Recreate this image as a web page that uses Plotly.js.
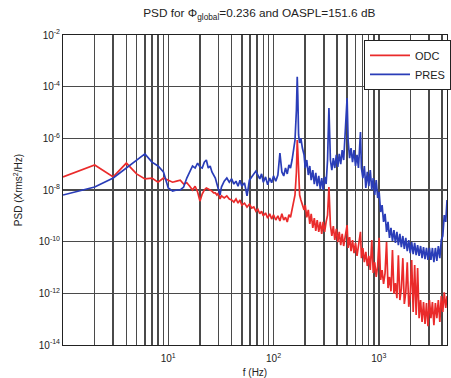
<!DOCTYPE html>
<html>
<head>
<meta charset="utf-8">
<script src="https://cdn.plot.ly/plotly-3.0.1.min.js"></script>
<style>html,body{margin:0;padding:0;background:#fff;}#chart{width:451px;height:378px;}</style>
</head>
<body>
<div id="chart"></div>
<script>
// Frequency grid (Hz), shared by both spectra
const freq = [1,2,3,4,5,6,7,8,9,10,11,12,13,14,15,16,17,18,19,20,21,22,23,24,25,26,27,28,29,30,31,32,
34,36,38,40,42,44,46,48,50,53,56,59,62,65,68,71,74,77,80,84,88,92,96,100,
105,110,115,120,125,130,135,140,145,150,155,160,165,168,170,173,177,182,188,195,
200,207,214,221,228,236,244,252,260,269,278,287,296,306,316,326,336,347,358,370,
382,395,408,421,435,449,464,479,500,511,528,545,563,582,601,621,641,670,684,706,
729,753,778,804,830,858,886,915,945,976,1008,1041,1075,1110,1147,1185,1224,1264,1306,1349,
1393,1439,1486,1535,1586,1638,1692,1748,1805,1864,1926,1989,2054,2122,2192,2264,2338,2415,2495,2577,
2661,2749,2839,2933,3029,3129,3232,3338,3448,3561,3679,3800,3925,4054,4187,4325,4450];

// ODC PSD (Xrms^2/Hz)
const odc = [3.2e-8,9.3e-8,3.2e-8,1.1e-7,4.2e-8,2.7e-8,2.9e-8,2.0e-8,2.9e-8,2.4e-8,2.0e-8,2.2e-8,2.4e-8,1.7e-8,1.9e-8,1.4e-8,1.0e-8,1.4e-8,8.4e-9,3.7e-9,7.0e-9,1.0e-8,1.2e-8,1.1e-8,1.0e-8,9.1e-9,7.7e-9,7.7e-9,6.4e-9,7.7e-9,4.5e-9,5.9e-9,
4.9e-9,5.9e-9,4.5e-9,4.1e-9,3.4e-9,4.5e-9,3.1e-9,4.1e-9,2.6e-9,3.1e-9,2.2e-9,2.8e-9,2.0e-9,2.2e-9,1.5e-9,1.8e-9,1.2e-9,1.5e-9,1.0e-9,1.3e-9,8.2e-10,1.2e-9,7.5e-10,1.1e-9,
6.9e-10,1.0e-9,6.3e-10,1.2e-9,6.9e-10,8.8e-10,5.8e-10,1.1e-9,8.8e-10,1.8e-9,2.6e-9,6.4e-9,5.0e-8,8.6e-7,3.5e-7,3.2e-8,6.4e-9,4.1e-9,2.4e-9,1.7e-9,
2.6e-9,8.8e-10,1.7e-9,4.9e-10,1.2e-9,3.4e-10,8.2e-10,2.6e-10,6.9e-10,2.4e-10,5.8e-10,2.0e-10,5.8e-10,2.4e-10,5.8e-10,1.07e-9,1.3e-8,4.4e-10,1.66e-10,4.0e-10,
1.16e-10,3.1e-10,9.7e-11,2.4e-10,7.4e-11,2.0e-10,6.8e-11,1.66e-10,4.4e-10,5.7e-11,1.5e-10,4.3e-11,1.16e-10,3.6e-11,8.9e-11,2.8e-11,7.4e-11,2.4e-10,2.3e-11,5.7e-11,
1.6e-11,4.0e-11,1.14e-11,2.8e-11,8.0e-12,1.16e-10,6.1e-12,1.6e-11,4.3e-12,1.14e-11,1.4e-10,3.3e-12,8.0e-12,2.3e-12,6.1e-12,9.7e-11,1.6e-12,4.3e-12,1.2e-12,4.7e-11,
9.6e-13,2.5e-12,6.5e-13,3.0e-11,5.5e-13,1.5e-12,2.3e-11,3.9e-13,1.1e-12,1.6e-11,3.0e-13,8.6e-13,1.95e-11,1.9e-13,1.25e-11,1.45e-13,9.5e-12,1.1e-13,5.5e-13,7.8e-14,
4.6e-13,6.5e-14,4.2e-13,5.4e-14,5.5e-13,1.1e-13,4.6e-13,5.9e-14,4.2e-13,1.1e-13,5.5e-13,7.8e-14,7.9e-13,1.9e-13,1.1e-12,2.7e-13,7.9e-13];

// PRES PSD (Xrms^2/Hz)
const pres = [6.4e-9,1.3e-8,2.9e-8,7.1e-8,1.45e-7,2.5e-7,1.2e-7,8.5e-8,5.0e-8,1.2e-8,9.1e-9,1.0e-8,1.0e-8,1.3e-8,2.9e-8,5.4e-8,8.5e-8,7.1e-8,1.1e-7,7.8e-8,7.1e-8,1.2e-7,1.45e-7,7.1e-8,8.5e-8,5.0e-8,3.8e-8,2.9e-8,1.7e-8,1.0e-8,6.4e-9,1.3e-8,
2.2e-8,2.9e-8,2.0e-8,2.7e-8,1.7e-8,2.2e-8,1.4e-8,2.4e-8,1.4e-8,1.9e-8,5.9e-9,2.4e-8,3.2e-8,4.6e-8,5.4e-8,3.8e-8,2.7e-8,4.2e-8,2.0e-8,3.2e-8,1.6e-8,2.9e-8,1.9e-8,3.5e-8,
2.2e-8,3.8e-8,2.7e-7,5.0e-8,3.5e-8,7.1e-8,4.2e-8,9.3e-8,7.1e-8,1.45e-7,3.5e-7,8.6e-7,1.25e-5,2.4e-4,4.8e-5,1.35e-6,6.6e-7,1.0e-6,4.2e-7,2.3e-7,
7.1e-8,1.45e-7,3.8e-8,8.5e-8,2.4e-8,5.9e-8,1.7e-8,4.6e-8,1.4e-8,3.5e-8,1.1e-8,2.9e-8,1.0e-8,3.2e-8,1.7e-8,1.45e-7,1.5e-5,1.45e-7,5.9e-8,1.7e-7,
7.1e-8,2.3e-7,7.8e-8,2.5e-7,1.0e-7,3.5e-7,1.45e-7,1.35e-6,3.6e-5,8.6e-7,1.7e-7,4.2e-7,1.2e-7,3.5e-7,8.5e-8,2.3e-7,7.1e-8,1.75e-6,7.1e-8,2.9e-8,
8.5e-8,1.2e-8,5.0e-8,1.4e-8,5.9e-8,1.0e-8,2.9e-8,6.4e-9,2.4e-8,4.9e-9,8.4e-9,1.4e-9,2.6e-9,5.8e-10,1.2e-9,2.4e-10,5.8e-10,1.4e-10,3.4e-10,1.06e-10,
2.8e-10,8.9e-11,2.4e-10,7.4e-11,2.0e-10,6.2e-11,1.66e-10,5.2e-11,1.4e-10,4.3e-11,1.16e-10,3.6e-11,9.7e-11,3.3e-11,8.9e-11,3.0e-11,7.4e-11,2.8e-11,6.8e-11,2.3e-11,
6.2e-11,2.1e-11,5.7e-11,1.95e-11,5.7e-11,1.95e-11,5.7e-11,1.6e-11,5.7e-11,1.8e-11,6.8e-11,2.3e-11,1.16e-10,1.66e-10,1.07e-9,5.8e-10,4.1e-9];

const xTickVals = [10,100,1000];
const xTickText = ['10<sup>1</sup>','10<sup>2</sup>','10<sup>3</sup>'];
const xMinorVals = [2,3,4,5,6,7,8,9,20,30,40,50,60,70,80,90,200,300,400,500,600,700,800,900,2000,3000,4000];
const yTickVals = [1e-14,1e-12,1e-10,1e-8,1e-6,1e-4,1e-2];
const yTickText = ['10<sup>-14</sup>','10<sup>-12</sup>','10<sup>-10</sup>','10<sup>-8</sup>','10<sup>-6</sup>','10<sup>-4</sup>','10<sup>-2</sup>'];

const FONT = 'Liberation Sans, Arial, sans-serif';
const GRID = '#4a4a4a';

const traces = [
  {x: freq, y: odc, name: 'ODC', type: 'scatter', mode: 'lines',
   line: {color: '#ea2b2b', width: 1.7}},
  {x: freq, y: pres, name: 'PRES', type: 'scatter', mode: 'lines',
   line: {color: '#2a3db8', width: 1.7}}
];

const layout = {
  width: 451, height: 378,
  margin: {l: 63, r: 0, t: 35, b: 33, pad: 0},
  paper_bgcolor: '#fff', plot_bgcolor: '#fff',
  font: {family: FONT, size: 10, color: '#222'},
  title: {text: 'PSD for Φ<sub>global</sub>=0.236 and OASPL=151.6 dB',
          font: {family: FONT, size: 11.8, color: '#222'},
          x: 0.575, xanchor: 'center', y: 0.965, yanchor: 'middle'},
  xaxis: {type: 'log', range: [0, 3.648], tickmode: 'array',
          tickvals: xTickVals, ticktext: xTickText,
          showgrid: true, gridcolor: GRID, gridwidth: 1.5,
          minor: {tickmode: 'array', tickvals: xMinorVals, showgrid: true,
                  gridcolor: GRID, gridwidth: 1.5, ticks: ''},
          showline: true, linecolor: '#222', linewidth: 1, mirror: true,
          ticks: '', zeroline: false, ticklabelstandoff: 4,
          tickfont: {family: FONT, size: 10, color: '#222'},
          title: {text: 'f (Hz)', font: {family: FONT, size: 10, color: '#222'}, standoff: 9}},
  yaxis: {type: 'log', range: [-14, -2], tickmode: 'array',
          tickvals: yTickVals, ticktext: yTickText,
          showgrid: true, gridcolor: GRID, gridwidth: 1.5,
          showline: true, linecolor: '#222', linewidth: 1, mirror: true,
          ticks: '', zeroline: false,
          tickfont: {family: FONT, size: 10, color: '#222'},
          title: {text: 'PSD (Xrms<sup>2</sup>/Hz)', font: {family: FONT, size: 10, color: '#222'}, standoff: 14}},
  legend: {x: 0.784, y: 0.984, xanchor: 'left', yanchor: 'top',
           bgcolor: '#fff', bordercolor: '#222', borderwidth: 1,
           font: {family: FONT, size: 11, color: '#222'},
           itemwidth: 40, tracegroupgap: 0},
  showlegend: true
};

Plotly.newPlot('chart', traces, layout, {staticPlot: true, displayModeBar: false});
</script>
</body>
</html>
